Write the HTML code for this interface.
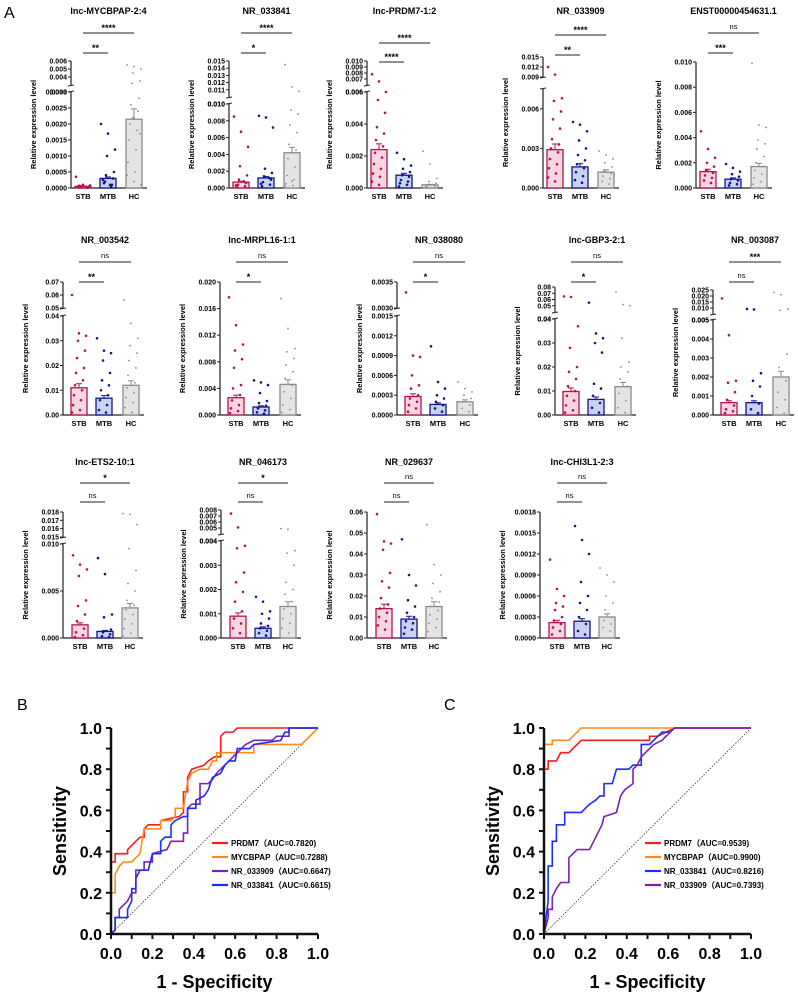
<!DOCTYPE html>
<html><head><meta charset="utf-8"><style>
html,body{margin:0;padding:0;background:#fff;}
svg{display:block;font-family:"Liberation Sans",Arial,sans-serif;}
</style></head><body>
<svg id="fig" width="798" height="992" viewBox="0 0 798 992">
<text x="4" y="18" font-size="16">A</text>
<text x="17" y="710" font-size="16">B</text>
<text x="444" y="710" font-size="16">C</text>
</svg>
<script>
const NS="http://www.w3.org/2000/svg";
const svg=document.getElementById('fig');
function mk(tag,attrs,parent){const e=document.createElementNS(NS,tag);for(const k in attrs)e.setAttribute(k,attrs[k]);(parent||svg).appendChild(e);return e;}

// ---------- Panel A data ----------
const groups=["STB","MTB","HC"];
const titles=["lnc-MYCBPAP-2:4","NR_033841","lnc-PRDM7-1:2","NR_033909","ENST00000454631.1","NR_003542","lnc-MRPL16-1:1","NR_038080","lnc-GBP3-2:1","NR_003087","lnc-ETS2-10:1","NR_046173","NR_029637","lnc-CHI3L1-2:3"];
const lowTicks=[["0.0000","0.0005","0.0010","0.0015","0.0020","0.0025","0.0030"],["0.000","0.002","0.004","0.006","0.008","0.010"],["0.000","0.002","0.004","0.006"],["0.000","0.003","0.006"],["0.000","0.002","0.004","0.006","0.008","0.010"],["0.00","0.01","0.02","0.03","0.04"],["0.000","0.004","0.008","0.012","0.016","0.020"],["0.0000","0.0003","0.0006","0.0009","0.0012","0.0015"],["0.00","0.01","0.02","0.03","0.04"],["0.000","0.001","0.002","0.003","0.004","0.005"],["0.000","0.005","0.010"],["0.000","0.001","0.002","0.003","0.004"],["0.00","0.01","0.02","0.03","0.04","0.05","0.06"],["0.0000","0.0003","0.0006","0.0009","0.0012","0.0015","0.0018"]];
const lowMax=[0.003,0.010,0.006,0.0075,0.010,0.04,0.020,0.0015,0.04,0.005,0.010,0.004,0.06,0.0018];
const upTicks=[["0.003","0.004","0.005","0.006"],["0.010","0.011","0.012","0.013","0.014","0.015"],["0.006","0.007","0.008","0.009","0.010"],["0.009","0.012","0.015"],null,["0.05","0.06","0.07"],null,["0.0030","0.0035"],["0.04","0.05","0.06","0.07","0.08"],["0.005","0.010","0.015","0.020","0.025"],["0.015","0.016","0.017","0.018"],["0.004","0.005","0.006","0.007","0.008"],null,null];
const means=[[0.00005,0.0003,0.00215],[0.0007,0.0012,0.0042],[0.0024,0.0008,0.0002],[0.0029,0.0016,0.0012],[0.0013,0.0007,0.0017],[0.011,0.0068,0.012],[0.0026,0.0012,0.0046],[0.00028,0.00016,0.0002],[0.0098,0.0065,0.0118],[0.00065,0.00065,0.002],[0.0014,0.0007,0.0032],[0.0009,0.0004,0.0013],[0.014,0.009,0.015],[0.00022,0.00024,0.0003]];
const sigLong=["****","****","****","****","ns","ns","ns","ns","ns","***","*","*","ns","ns"];
const sigShort=["**","*","****","**","***","**","*","*","*","ns","ns","ns","ns","ns"];
const pts=[
[[0.00035,0.0001,0.00008,0.00005,0.00004,0.00003,0.00002,0.00006,0.00001,0.00007,0.00002,0.00004],[0.002,0.0017,0.0012,0.0010,0.0005,0.0004,0.0003,0.0002,0.0001,0.00015,0.00005,0.00025,0.0001],[0.0055,0.0053,0.005,0.0045,0.0035,0.0032,0.0028,0.0026,0.0024,0.002,0.0018,0.0015,0.0012,0.0008,0.0005,0.0004,0.0002,0.0001,0.0022,0.0017]],
[[0.0085,0.0067,0.0049,0.0026,0.0015,0.001,0.0006,0.0004,0.0002,0.0001,0.0008,0.0003],[0.0086,0.0084,0.0072,0.0023,0.0018,0.0014,0.001,0.0007,0.0004,0.0002,0.0012,0.0005],[0.0145,0.0114,0.0108,0.0093,0.0088,0.0075,0.0066,0.0052,0.0045,0.0035,0.0025,0.0015,0.001,0.0005,0.0003,0.0002,0.0008]],
[[0.0078,0.0066,0.006,0.0055,0.0047,0.0038,0.0034,0.003,0.0026,0.0022,0.0019,0.0015,0.0012,0.0009,0.0007,0.0004,0.0002],[0.0022,0.0018,0.0014,0.0012,0.001,0.0008,0.0007,0.0005,0.0004,0.0003,0.0002,0.0001],[0.0023,0.0015,0.0006,0.0004,0.0003,0.0002,0.0001,0.00005,0.0002,0.0001]],
[[0.012,0.0097,0.0068,0.0066,0.0058,0.0052,0.0045,0.0037,0.0033,0.003,0.0027,0.0022,0.0018,0.0015,0.0011,0.0008,0.0005],[0.005,0.0048,0.0043,0.0036,0.003,0.0025,0.0021,0.0018,0.0015,0.0012,0.0009,0.0006,0.0004],[0.0028,0.0025,0.0022,0.0019,0.0016,0.0013,0.0011,0.0009,0.0007,0.0005,0.0003]],
[[0.0045,0.0031,0.0024,0.002,0.0017,0.0014,0.0012,0.001,0.0008,0.0006,0.0004],[0.0019,0.0016,0.0013,0.0011,0.0009,0.0007,0.0006,0.0004,0.0003,0.0002],[0.0099,0.005,0.0048,0.0038,0.0035,0.0031,0.0025,0.002,0.0017,0.0014,0.0011,0.0008,0.0005,0.0003]],
[[0.06,0.033,0.032,0.03,0.026,0.023,0.019,0.017,0.014,0.012,0.01,0.008,0.006,0.004,0.002,0.001],[0.031,0.026,0.025,0.022,0.017,0.014,0.012,0.01,0.008,0.006,0.004,0.002,0.001],[0.056,0.037,0.031,0.028,0.025,0.022,0.019,0.016,0.013,0.011,0.009,0.007,0.005,0.003,0.001]],
[[0.0177,0.0135,0.0106,0.0097,0.0084,0.0071,0.0045,0.004,0.003,0.0022,0.0015,0.001,0.0006,0.0003],[0.0052,0.0049,0.0045,0.0033,0.0021,0.0018,0.0014,0.001,0.0007,0.0004,0.0002],[0.0175,0.013,0.01,0.0095,0.0085,0.0075,0.0065,0.0055,0.0045,0.0035,0.0025,0.0015,0.0008,0.0004]],
[[0.0033,0.0009,0.00088,0.0006,0.00045,0.0004,0.0003,0.00025,0.0002,0.00015,0.0001,0.00005],[0.00104,0.0005,0.0004,0.0003,0.00025,0.0002,0.00015,0.0001,0.00005],[0.0005,0.0004,0.00035,0.0003,0.00025,0.0002,0.00015,0.0001,0.00005]],
[[0.065,0.064,0.037,0.028,0.02,0.018,0.015,0.012,0.01,0.008,0.006,0.004,0.002,0.001],[0.055,0.034,0.032,0.03,0.026,0.013,0.011,0.008,0.005,0.003,0.001],[0.072,0.052,0.05,0.032,0.022,0.02,0.018,0.015,0.012,0.009,0.006,0.003,0.001]],
[[0.018,0.0042,0.0018,0.0017,0.0012,0.0008,0.0005,0.0003,0.0002,0.0001],[0.0092,0.0088,0.0022,0.0018,0.0015,0.001,0.0006,0.0003,0.0001],[0.023,0.021,0.009,0.008,0.0032,0.0025,0.0018,0.0012,0.0008,0.0004,0.0001]],
[[0.0088,0.0078,0.0073,0.0066,0.004,0.0034,0.0025,0.0018,0.001,0.0006,0.0003,0.0001],[0.0085,0.0068,0.0025,0.0022,0.0009,0.0006,0.0004,0.0002,0.0001],[0.0178,0.0177,0.0165,0.0095,0.0072,0.0058,0.005,0.004,0.0035,0.003,0.0025,0.002,0.0015,0.001,0.0005,0.0002]],
[[0.0074,0.0051,0.0038,0.0037,0.0027,0.0023,0.0019,0.0015,0.0011,0.0008,0.0006,0.0004,0.0002],[0.0017,0.0015,0.0011,0.001,0.0008,0.0006,0.0005,0.0004,0.0003,0.0002,0.0001],[0.0049,0.0048,0.0036,0.0035,0.003,0.0023,0.002,0.0018,0.0015,0.0012,0.001,0.0008,0.0006,0.0004,0.0002]],
[[0.059,0.046,0.045,0.042,0.031,0.027,0.024,0.019,0.016,0.014,0.012,0.01,0.008,0.006,0.004],[0.047,0.03,0.025,0.018,0.015,0.012,0.01,0.008,0.007,0.005,0.004,0.002],[0.054,0.035,0.03,0.026,0.022,0.019,0.017,0.015,0.013,0.011,0.009,0.007,0.005,0.003]],
[[0.00112,0.0007,0.0006,0.0005,0.00045,0.0004,0.0003,0.00025,0.0002,0.00015,0.0001,0.00005],[0.0016,0.0014,0.0012,0.0008,0.0006,0.0005,0.0004,0.0003,0.0002,0.0001,0.00005],[0.001,0.0009,0.0008,0.0006,0.0005,0.0004,0.0003,0.00025,0.0002,0.00015,0.0001]]
];

// ---------- layout (not data) ----------
const L=[ // axisX, bottom, yLowTop, yUpBot, yUpTop, titleY, sigY1, sigY2, offsets
[71,188,92,85,61,14,33,53,0],[229,188,104,97,61,14,33,53,0],[367,188,92,85,61,14,43,62,0],[543,188,89,77,57,14,35,55,0],[696,188,62,0,0,14,33,53,0],
[63,415,316,308,282,243,262,282,1],[220,415,282,0,0,243,262,282,1],[397,415,316,308,282,243,262,282,1],[555,415,319,312,287,243,262,282,1],[713,415,320,314,290,243,262,282,1],
[63,638,544,537,512,465,483,502,2],[221,638,541,534,510,465,483,502,2],[367,638,512,0,0,465,483,502,2],[540,638,512,0,0,465,483,502,2]];
const OFF=[[12,37,63],[16,41,68],[17,42,67]];
const STROKE=["#b5124f","#14148c","#8a8a8a"], FILL=["#f9d6e1","#c9d3f1","#e4e4e4"];

for(let p=0;p<titles.length;p++){
  const [ax,bot,yl,yu0,yu1,ty,s1,s2,ro]=L[p];
  const g=mk('g',{});
  
  
  const lt=lowTicks[p].map(Number), ut=upTicks[p]?upTicks[p].map(Number):null;
  const lmax=lt[lt.length-1]>lowMax[p]?lt[lt.length-1]:lowMax[p];
  const yOf=v=>{
    if(!ut||v<=lmax) return bot-Math.min(v,lmax)/lmax*(bot-yl);
    const umin=ut[0],umax=ut[ut.length-1];
    return yu0-(Math.max(v,umin)-umin)/(umax-umin)*(yu0-yu1);
  };
  const xs=OFF[ro].map(o=>ax+o);
  const t=mk('text',{x:(xs[0]+xs[2])/2,y:ty,'font-size':9,'font-weight':'bold','text-anchor':'middle'},g);
  t.textContent=titles[p];
  
  
  // axes
  mk('line',{x1:ax,y1:bot,x2:xs[2]+13,y2:bot,stroke:'#222','stroke-width':1.2},g);
  mk('line',{x1:ax,y1:bot,x2:ax,y2:yl,stroke:'#222','stroke-width':1.2},g);
  if(ut){
    mk('line',{x1:ax,y1:yu0,x2:ax,y2:yu1,stroke:'#222','stroke-width':1.2},g);
    mk('line',{x1:ax-3,y1:yl,x2:ax+3,y2:yl-1,stroke:'#222','stroke-width':1},g);
    mk('line',{x1:ax-3,y1:yu0+1,x2:ax+3,y2:yu0,stroke:'#222','stroke-width':1},g);
  }
  const tickDraw=(arr,labels)=>arr.forEach((v,i)=>{
    const y=yOf(v);
    mk('line',{x1:ax-3,y1:y,x2:ax,y2:y,stroke:'#222','stroke-width':1},g);
    const tx=mk('text',{x:ax-4,y:y+2.5,'font-size':7,'font-weight':'bold','text-anchor':'end'},g);
    tx.textContent=labels[i];
    
    
  });
  tickDraw(lt,lowTicks[p]);
  if(ut) tickDraw(ut,upTicks[p]);
  const yl2=mk('text',{x:0,y:0,'font-size':7.5,'font-weight':'bold','text-anchor':'middle',transform:`translate(${ax-35},${(bot+(ut?yu1:yl))/2}) rotate(-90)`},g);
  yl2.textContent='Relative expression level';
  
  
  for(let k=0;k<3;k++){
    const m=means[p][k], ym=yOf(m);
    const b=mk('rect',{x:xs[k]-8,y:ym,width:16,height:bot-ym,fill:FILL[k],stroke:STROKE[k],'stroke-width':1.3},g);
    
    
    pts[p][k].forEach((v,i)=>{
      const dx=((i*37)%15)-7;
      const c=mk('circle',{cx:xs[k]+dx,cy:yOf(v),r:k==2?0.9:1.3,fill:STROKE[k]},g);
      
      
    });
    const eb=yOf(m*1.15)-ym;
    mk('line',{x1:xs[k],y1:ym,x2:xs[k],y2:ym+eb,stroke:STROKE[k],'stroke-width':1},g);
    mk('line',{x1:xs[k]-3,y1:ym+eb,x2:xs[k]+3,y2:ym+eb,stroke:STROKE[k],'stroke-width':1},g);
    const xl=mk('text',{x:xs[k],y:bot+11,'font-size':7.5,'font-weight':'bold','text-anchor':'middle'},g);
    xl.textContent=groups[k];
    
    
  }
  [[s1,xs[2],sigLong[p]],[s2,xs[1],sigShort[p]]].forEach(([y,x2,lab])=>{
    mk('line',{x1:xs[0],y1:y,x2:x2,y2:y,stroke:'#222','stroke-width':1},g);
    const st=mk('text',{x:(xs[0]+x2)/2,y:lab=='ns'?y-4:y-2,'font-size':lab=='ns'?7.5:9,'font-weight':lab=='ns'?'normal':'bold','text-anchor':'middle'},g);
    st.textContent=lab;
    
    
  });
}

// ---------- ROC data ----------
const rocNamesB=["PRDM7\uFF08AUC=0.7820)","MYCBPAP\uFF08AUC=0.7288)","NR_033909\uFF08AUC=0.6647)","NR_033841\uFF08AUC=0.6615)"];
const rocNamesC=["PRDM7\uFF08AUC=0.9539)","MYCBPAP\uFF08AUC=0.9900)","NR_033841\uFF08AUC=0.8216)","NR_033909\uFF08AUC=0.7393)"];
const colorsB=["#ff1a1a","#ff8c1a","#7b22b0","#1a2cff"], colorsC=["#ff1a1a","#ff8c1a","#1a2cff","#7b22b0"];
const rocB=[
[[0,0],[0,.35],[.02,.35],[.02,.39],[.08,.39],[.08,.41],[.1,.43],[.12,.45],[.14,.47],[.16,.47],[.16,.51],[.18,.53],[.24,.53],[.24,.55],[.33,.57],[.35,.59],[.35,.69],[.37,.69],[.37,.76],[.39,.8],[.45,.82],[.47,.84],[.5,.86],[.53,.86],[.53,.96],[.55,.98],[.59,.98],[.61,1],[1,1]],
[[0,0],[0,.2],[.02,.2],[.02,.29],[.04,.33],[.06,.35],[.1,.35],[.12,.37],[.14,.39],[.16,.51],[.24,.51],[.24,.55],[.29,.55],[.31,.57],[.31,.61],[.35,.61],[.37,.74],[.39,.78],[.43,.8],[.47,.8],[.49,.84],[.51,.84],[.51,.88],[.69,.88],[.69,.92],[.92,.92],[1,1]],
[[0,0],[.02,.02],[.02,.08],[.04,.08],[.04,.12],[.06,.14],[.08,.16],[.1,.2],[.12,.2],[.12,.31],[.16,.31],[.16,.35],[.2,.35],[.2,.39],[.27,.41],[.29,.45],[.35,.45],[.35,.49],[.37,.49],[.37,.61],[.39,.63],[.43,.63],[.43,.73],[.47,.73],[.49,.75],[.51,.78],[.53,.8],[.55,.82],[.57,.84],[.59,.86],[.61,.88],[.63,.9],[.65,.92],[.69,.94],[.78,.94],[.8,.96],[.86,.96],[.86,1],[1,1]],
[[0,0],[.02,.02],[.02,.08],[.08,.08],[.08,.12],[.1,.16],[.1,.22],[.12,.22],[.12,.27],[.14,.31],[.18,.31],[.2,.39],[.24,.39],[.24,.45],[.26,.47],[.29,.47],[.29,.53],[.31,.55],[.35,.57],[.37,.57],[.37,.61],[.41,.61],[.41,.65],[.45,.67],[.47,.7],[.49,.76],[.53,.78],[.55,.82],[.57,.84],[.6,.84],[.61,.9],[.67,.9],[.69,.92],[.82,.94],[.84,.98],[.86,.98],[.86,1],[1,1]]];
const rocC=[
[[0,0],[0,.8],[.02,.8],[.02,.84],[.06,.84],[.08,.88],[.12,.88],[.14,.9],[.16,.92],[.18,.94],[.51,.94],[.51,.96],[.55,.96],[.59,.98],[.63,1],[1,1]],
[[0,0],[0,.92],[.04,.92],[.04,.94],[.12,.94],[.14,.96],[.16,.98],[.18,1],[1,1]],
[[0,0],[.02,.16],[.02,.33],[.04,.33],[.04,.45],[.06,.45],[.06,.53],[.1,.53],[.1,.59],[.18,.59],[.2,.61],[.22,.63],[.25,.65],[.27,.67],[.29,.67],[.29,.73],[.33,.73],[.35,.8],[.41,.8],[.43,.82],[.47,.82],[.47,.92],[.51,.92],[.53,.94],[.55,.96],[.57,.98],[.61,.98],[.63,1],[1,1]],
[[0,0],[.02,.08],[.02,.12],[.04,.12],[.04,.18],[.06,.22],[.08,.25],[.12,.25],[.12,.37],[.16,.41],[.22,.41],[.24,.45],[.26,.49],[.28,.53],[.29,.57],[.35,.59],[.37,.67],[.39,.7],[.43,.73],[.43,.8],[.45,.82],[.47,.86],[.49,.88],[.51,.9],[.53,.92],[.57,.94],[.59,.96],[.61,.98],[.63,1],[1,1]]];
const rocTicks=["0.0","0.2","0.4","0.6","0.8","1.0"];

function roc(x0,x1,names,colors,curves,legX,id){
  const y0=934,y1=728;
  const X=v=>x0+v*(x1-x0), Y=v=>y0-v*(y0-y1);
  const g=mk('g',{});
  
  
  mk('line',{x1:X(0),y1:Y(0),x2:X(1),y2:Y(1),stroke:'#333','stroke-width':0.8,'stroke-dasharray':'1.5,1.5'},g);
  curves.forEach((c,i)=>{
    const pl=mk('polyline',{points:c.map(p=>X(p[0])+','+Y(p[1])).join(' '),fill:'none',stroke:colors[i],'stroke-width':1.6},g);
    
    
    const ly=843+i*14;
    mk('line',{x1:legX,y1:ly,x2:legX+16,y2:ly,stroke:colors[i],'stroke-width':2.2},g);
    const lt=mk('text',{x:legX+19,y:ly+3,'font-size':8,'font-weight':'bold'},g);
    lt.textContent=names[i];
    
    
  });
  mk('line',{x1:x0,y1:y0,x2:x1,y2:y0,stroke:'#111','stroke-width':2.5},g);
  mk('line',{x1:x0,y1:y0+1,x2:x0,y2:y1,stroke:'#111','stroke-width':2.5},g);
  for(let i=0;i<=10;i++){
    const v=i/10;
    mk('line',{x1:X(v),y1:y0,x2:X(v),y2:y0+5,stroke:'#111','stroke-width':2},g);
    mk('line',{x1:x0-5,y1:Y(v),x2:x0,y2:Y(v),stroke:'#111','stroke-width':2},g);
  }
  rocTicks.forEach(s=>{
    const v=Number(s);
    const a=mk('text',{x:X(v),y:y0+25,'font-size':16,'font-weight':'bold','text-anchor':'middle'},g);
    a.textContent=s;
    
    
    const b=mk('text',{x:x0-9,y:Y(v)+6,'font-size':16,'font-weight':'bold','text-anchor':'end'},g);
    b.textContent=s;
    
    
  });
  const xt=mk('text',{x:(x0+x1)/2,y:988,'font-size':18,'font-weight':'bold','text-anchor':'middle'},g);
  xt.textContent='1 - Specificity';
  
  
  const yt=mk('text',{x:0,y:0,'font-size':18,'font-weight':'bold','text-anchor':'middle',transform:`translate(${x0-45},${(y0+y1)/2}) rotate(-90)`},g);
  yt.textContent='Sensitivity';
  
  
}
roc(111,318,rocNamesB,colorsB,rocB,212,'b');
roc(544,751,rocNamesC,colorsC,rocC,645,'c');
</script>
</body></html>
